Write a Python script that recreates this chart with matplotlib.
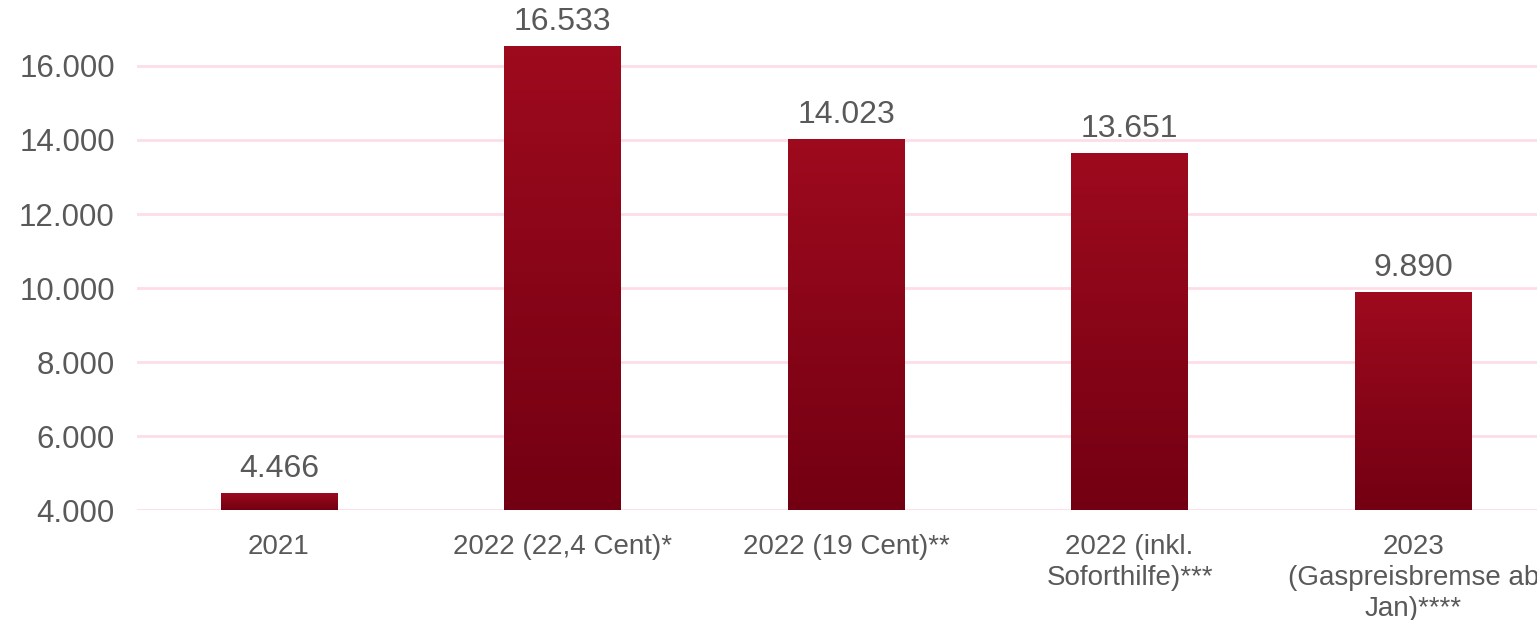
import numpy as np
import matplotlib.pyplot as plt
from matplotlib.colors import LinearSegmentedColormap

categories = ["2021", "2022 (22,4 Cent)*", "2022 (19 Cent)**",
              "2022 (inkl.\nSoforthilfe)***", "2023\n(Gaspreisbremse ab\nJan)****"]
values = [4466, 16533, 14023, 13651, 9890]
y_ticks = [4000, 6000, 8000, 10000, 12000, 14000, 16000]

TEXT = "#595959"
GRID = "#FDDDE6"
bar_cmap = LinearSegmentedColormap.from_list("bar", ["#730012", "#9E0A1E"])

plt.rcParams["font.family"] = ["Liberation Sans", "DejaVu Sans"]


def fmt(v):
    return f"{v:,}".replace(",", ".")


fig = plt.figure(figsize=(15.37, 6.2), dpi=100)
ax = fig.add_axes([137 / 1537, 110 / 620, 1418 / 1537, 518 / 620])
ax.set_xlim(-0.5, len(categories) - 0.5)
ax.set_ylim(4000, 18000)

x = np.arange(len(categories))
bars = ax.bar(x, values, width=0.41, color="none", zorder=2)

# vertical gradient inside each bar, over its visible part
grad = np.linspace(0, 1, 256).reshape(-1, 1)
ymin = ax.get_ylim()[0]
for b, v in zip(bars, values):
    x0 = b.get_x()
    im = ax.imshow(grad, cmap=bar_cmap, origin="lower", aspect="auto",
                   extent=[x0, x0 + b.get_width(), ymin, v], zorder=2)
    im.set_clip_path(b)
    ax.text(b.get_x() + b.get_width() / 2, v + 250, fmt(v),
            ha="center", va="bottom", fontsize=23, color=TEXT)

ax.set_xlim(-0.5, len(categories) - 0.5)
ax.set_ylim(4000, 18000)

ax.set_yticks(y_ticks, labels=[fmt(t) for t in y_ticks])
ax.set_xticks(x, labels=categories)
ax.tick_params(axis="y", length=0, pad=16, labelsize=22.5, labelcolor=TEXT)
ax.tick_params(axis="x", length=0, pad=17, labelsize=20, labelcolor=TEXT)
for lab in ax.get_xticklabels():
    lab.set_linespacing(1.26)

ax.yaxis.grid(True, color=GRID, linewidth=2, zorder=0)
ax.set_axisbelow(True)
for s in ax.spines.values():
    s.set_visible(False)

fig.savefig("out.png", dpi=100)
